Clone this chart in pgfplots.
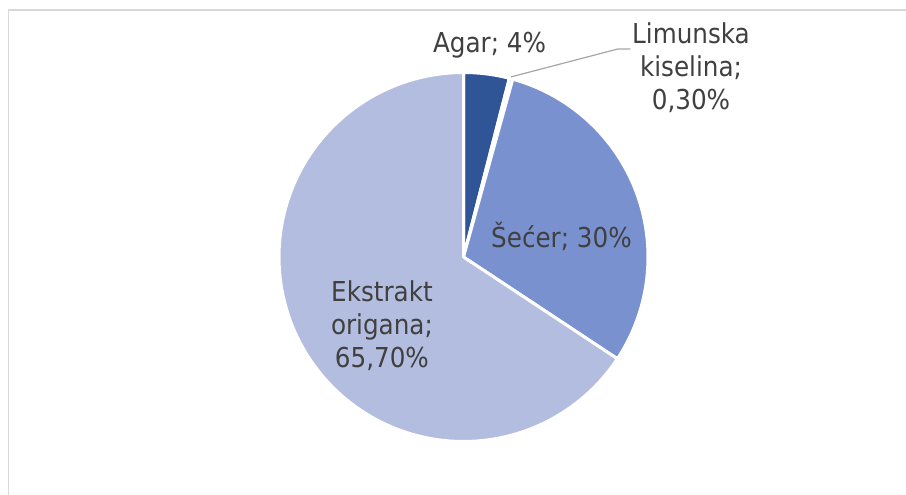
\documentclass[border=0pt]{standalone}
\usepackage{pgfplots}
\pgfplotsset{compat=1.18}
\usepackage{fontspec}
\setmainfont{DejaVu Sans Condensed}
\definecolor{cAgar}{HTML}{2F5597}
\definecolor{cLimun}{HTML}{4472C4}
\definecolor{cSecer}{HTML}{7A91D0}
\definecolor{cEkstr}{HTML}{B3BDDF}
\definecolor{txt}{HTML}{404040}
\definecolor{framegray}{HTML}{D9D9D9}
\definecolor{leader}{HTML}{A6A6A6}
% data (percent)
\def\vAgar{4}
\def\vLimun{0.3}
\def\vSecer{30}
\def\vEkstr{65.7}
\pgfmathsetmacro{\aA}{90}
\pgfmathsetmacro{\aB}{\aA-3.6*\vAgar}
\pgfmathsetmacro{\aC}{\aB-3.6*\vLimun}
\pgfmathsetmacro{\aD}{\aC-3.6*\vSecer}
\pgfmathsetmacro{\aE}{\aD-3.6*\vEkstr}
\begin{document}
\begin{tikzpicture}[every node/.style={font=\fontsize{13.7bp}{16.5bp}\selectfont, text=txt, inner sep=0pt}]
\useasboundingbox (0,0) rectangle (453bp,247.5bp);
\fill[white] (0,0) rectangle (453bp,247.5bp);
\draw[framegray, line width=0.8bp] (4.25bp,0) -- (4.25bp,242.5bp) -- (453bp,242.5bp);
\begin{axis}[at={(231.75bp,119bp)}, anchor=center, scale only axis,
  width=184.5bp, height=184.5bp, xmin=-1, xmax=1, ymin=-1, ymax=1,
  hide axis, clip=false, samples=90]
\addplot[fill=cAgar, draw=white, line width=1.5bp, line join=round, domain=\aB:\aA] ({cos(x)},{sin(x)}) -- (0,0) -- cycle;
\addplot[fill=cLimun, draw=white, line width=1.5bp, line join=round, domain=\aC:\aB, samples=5] ({cos(x)},{sin(x)}) -- (0,0) -- cycle;
\addplot[fill=cSecer, draw=white, line width=1.5bp, line join=round, domain=\aD:\aC] ({cos(x)},{sin(x)}) -- (0,0) -- cycle;
\addplot[fill=cEkstr, draw=white, line width=1.5bp, line join=round, domain=\aE:\aD, samples=150] ({cos(x)},{sin(x)}) -- (0,0) -- cycle;
\draw[leader, line width=0.6bp] (axis cs:0.257,0.976) -- (axis cs:0.835,1.127) -- (axis cs:0.905,1.127);
\node[anchor=base] at (axis cs:0.141,1.106) {Agar; 4\%};
\node[align=center] at (axis cs:1.233,1.027) {Limunska\\kiselina;\\0,30\%};
\node[anchor=base] at (axis cs:0.531,0.049) {Šećer; 30\%};
\node[align=center] at (axis cs:-0.442,-0.374) {Ekstrakt\\origana;\\65,70\%};
\end{axis}
\end{tikzpicture}
\end{document}
